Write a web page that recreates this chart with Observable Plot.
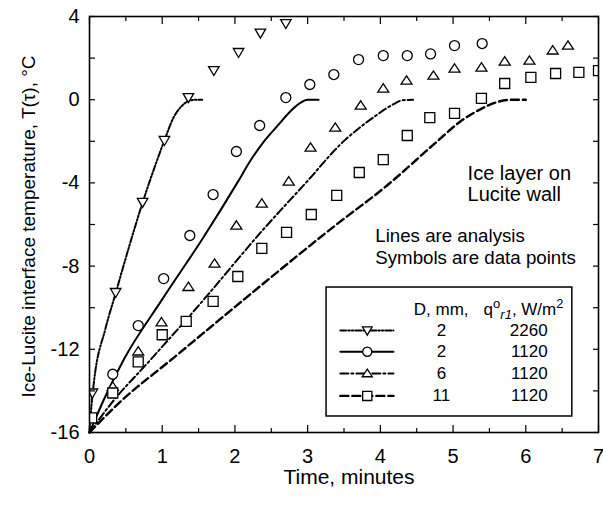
<!DOCTYPE html>
<html><head><meta charset="utf-8">
<script src="https://cdn.jsdelivr.net/npm/d3@7"></script>
<script src="https://cdn.jsdelivr.net/npm/@observablehq/plot@0.6"></script>
<style>
body{margin:0;background:#fff}
#chart{width:603px;height:506px}
</style>
</head><body><div id="chart"></div>
<script>
// ---- data (time in minutes, temperature in °C) ----
const seriesKeys = ["2260", "2mm", "6mm", "11mm"];
const legendD = ["2", "2", "6", "11"];
const legendQ = ["2260", "1120", "1120", "1120"];

// measured points
const ptsTime2260 = [0.04, 0.36, 0.73, 1.03, 1.36, 1.71, 2.05, 2.35, 2.70];
const ptsTemp2260 = [-14.1, -9.27, -4.94, -1.96, 0.1, 1.4, 2.27, 3.2, 3.66];
const ptsTime2mm = [0.32, 0.67, 1.02, 1.38, 1.70, 2.02, 2.34, 2.70, 3.03, 3.36, 3.70, 4.04, 4.37, 4.69, 5.02, 5.40];
const ptsTemp2mm = [-13.2, -10.86, -8.6, -6.53, -4.56, -2.49, -1.24, 0.1, 0.73, 1.21, 1.93, 2.12, 2.12, 2.2, 2.6, 2.7];
const ptsTime6mm = [0.32, 0.67, 0.99, 1.36, 1.72, 2.02, 2.37, 2.74, 3.04, 3.38, 3.73, 4.04, 4.36, 4.73, 5.02, 5.39, 5.71, 6.05, 6.37, 6.58];
const ptsTemp6mm = [-13.8, -12.1, -10.7, -9.0, -7.88, -6.05, -4.99, -3.93, -2.3, -1.34, -0.28, 0.54, 0.92, 1.16, 1.5, 1.55, 1.84, 1.88, 2.37, 2.6];
const ptsTime11mm = [0.03, 0.32, 0.67, 1.0, 1.33, 1.7, 2.04, 2.37, 2.71, 3.05, 3.40, 3.71, 4.04, 4.37, 4.68, 5.02, 5.39, 5.71, 6.07, 6.41, 6.73, 7.0];
const ptsTemp11mm = [-15.3, -14.1, -12.6, -11.3, -10.66, -9.7, -8.5, -7.15, -6.38, -5.52, -4.6, -3.5, -2.88, -1.72, -0.86, -0.66, 0.06, 0.78, 1.07, 1.26, 1.31, 1.4];

// analysis curves
const lnTime2260 = [0, 0.03, 0.06, 0.22, 0.36, 0.55, 0.73, 0.9, 1.03, 1.15, 1.27, 1.38, 1.48, 1.55];
const lnTemp2260 = [-16, -14.6, -13.6, -11.0, -9.3, -7.0, -4.95, -3.2, -1.96, -0.9, -0.3, -0.04, 0, 0];
const lnTime2mm = [0, 0.2, 0.47, 1.0, 1.57, 2.04, 2.21, 2.4, 2.6, 2.75, 2.88, 3.0, 3.15];
const lnTemp2mm = [-16, -14.4, -12.5, -9.6, -6.6, -3.95, -2.95, -2.0, -1.2, -0.6, -0.2, 0, 0];
const lnTime6mm = [0, 0.3, 0.84, 1.5, 2.4, 3.0, 3.45, 3.9, 4.19, 4.3, 4.45];
const lnTemp6mm = [-16, -14.6, -12.5, -9.9, -6.2, -3.9, -2.15, -0.86, -0.2, -0.03, 0];
const lnTime11mm = [0, 0.4, 1.16, 2.3, 3.36, 4.1, 4.75, 5.1, 5.38, 5.6, 5.8, 6.0];
const lnTemp11mm = [-16, -14.6, -12.4, -9.1, -6.1, -4.1, -2.1, -1.05, -0.45, -0.12, 0, 0];

const xMajorTicks = [0, 1, 2, 3, 4, 5, 6, 7];
const xMinorTicks = [0.5, 1.5, 2.5, 3.5, 4.5, 5.5, 6.5];
const yLabelTicks = [-16, -12, -8, -4, 0, 4];
const yAllTicks = [-16, -14, -12, -10, -8, -6, -4, -2, 0, 2, 4];

// ---- build tables ----
const zip = (xs, ys, key) => xs.map((x, i) => ({x, y: ys[i], key}));
const pts = {
  "2260": zip(ptsTime2260, ptsTemp2260, "2260"),
  "2mm": zip(ptsTime2mm, ptsTemp2mm, "2mm"),
  "6mm": zip(ptsTime6mm, ptsTemp6mm, "6mm"),
  "11mm": zip(ptsTime11mm, ptsTemp11mm, "11mm")
};
const lns = {
  "2260": zip(lnTime2260, lnTemp2260, "2260"),
  "2mm": zip(lnTime2mm, lnTemp2mm, "2mm"),
  "6mm": zip(lnTime6mm, lnTemp6mm, "6mm"),
  "11mm": zip(lnTime11mm, lnTemp11mm, "11mm")
};

// symbols
const triDown = {draw(c, s) { const r = Math.sqrt(s / Math.PI); c.moveTo(-1.05*r, -0.8*r); c.lineTo(1.05*r, -0.8*r); c.lineTo(0, 1.0*r); c.closePath(); }};
const triUp = {draw(c, s) { const r = Math.sqrt(s / Math.PI); c.moveTo(0, -0.95*r); c.lineTo(1.1*r, 0.72*r); c.lineTo(-1.1*r, 0.72*r); c.closePath(); }};
const sq = {draw(c, s) { const r = Math.sqrt(s / Math.PI); c.moveTo(-r, -r); c.lineTo(r, -r); c.lineTo(r, r); c.lineTo(-r, r); c.closePath(); }};
const circ = {draw(c, s) { const r = Math.sqrt(s / Math.PI); c.moveTo(r, 0); c.arc(0, 0, r, 0, 2*Math.PI); }};

const style = {
  "2260": {dash: "6,2,1.5,2,1.5,2", sym: triDown, w: 2},
  "2mm": {dash: null, sym: circ, w: 2},
  "6mm": {dash: "8,3,2,3", sym: triUp, w: 2},
  "11mm": {dash: "8,4", sym: sq, w: 2.4}
};

// legend layout (data coordinates)
const legX1 = 3.45, legX2 = 4.18, legXm = 3.82;
const legRowsY = [-11.1, -12.12, -13.16, -14.24];
const legendSamples = seriesKeys.map((k, i) => [{x: legX1, y: legRowsY[i], key: k}, {x: legX2, y: legRowsY[i], key: k}]);
const legendTable = seriesKeys.map((k, i) => ({key: k, y: legRowsY[i], d: legendD[i], q: legendQ[i]}));

const font = "Liberation Sans, Arial, Helvetica, sans-serif";
const marks = [];

// analysis lines
for (const k of seriesKeys) {
  marks.push(Plot.line(lns[k], {x: "x", y: "y", stroke: "black", strokeWidth: style[k].w,
    strokeDasharray: style[k].dash, curve: "monotone-x"}));
}
// data points
for (const k of seriesKeys) {
  marks.push(Plot.dot(pts[k], {x: "x", y: "y", symbol: () => style[k].sym, r: 5, fill: "white",
    stroke: "black", strokeWidth: 1.3, clip: true}));
}

// legend box
marks.push(Plot.rect([{x1: 3.26, x2: 6.64, y1: -9.03, y2: -15.23}], {x1: "x1", x2: "x2", y1: "y1", y2: "y2",
  fill: "white", stroke: "black", strokeWidth: 1.5}));
seriesKeys.forEach((k, i) => {
  marks.push(Plot.line(legendSamples[i], {x: "x", y: "y", stroke: "black", strokeWidth: style[k].w, strokeDasharray: style[k].dash}));
  marks.push(Plot.dot([legendTable[i]], {x: () => legXm, y: "y", symbol: () => style[k].sym, r: 4.6, fill: "white", stroke: "black", strokeWidth: 1.3}));
});
marks.push(Plot.text(legendTable, {x: () => 4.84, y: "y", text: "d", textAnchor: "middle", fontSize: 17, fontFamily: font}));
marks.push(Plot.text(legendTable, {x: () => 6.30, y: "y", text: "q", textAnchor: "end", fontSize: 17, fontFamily: font}));
marks.push(Plot.text(["D, mm,"], {x: () => 4.46, y: () => -10.1, text: d => d, textAnchor: "start", fontSize: 17, fontFamily: font}));
marks.push(Plot.text(["QHEADER"], {x: () => 5.42, y: () => -10.1, text: d => d, textAnchor: "start", fontSize: 17, fontFamily: font}));

// annotations
marks.push(Plot.text(["Ice layer on", "Lucite wall"], {x: () => 5.2, y: (d, i) => [-3.56, -4.56][i], text: d => d,
  textAnchor: "start", fontSize: 20, fontFamily: font}));
marks.push(Plot.text(["Lines are analysis", "Symbols are data points"], {x: () => 3.93, y: (d, i) => [-6.53, -7.6][i], text: d => d,
  textAnchor: "start", fontSize: 18.7, fontFamily: font}));

// frame & axes (inward ticks)
marks.push(Plot.frame({stroke: "black", strokeWidth: 1.6}));
marks.push(Plot.axisX(xMajorTicks, {anchor: "bottom", tickSize: -7, text: null, strokeWidth: 1.2}));
marks.push(Plot.axisX(xMinorTicks, {anchor: "bottom", tickSize: -4, text: null, strokeWidth: 1.2}));
marks.push(Plot.axisX(xMajorTicks, {anchor: "top", tickSize: -7, text: null, strokeWidth: 1.2}));
marks.push(Plot.axisX(xMinorTicks, {anchor: "top", tickSize: -4, text: null, strokeWidth: 1.2}));
marks.push(Plot.axisY(yAllTicks, {anchor: "left", tickSize: -6, text: null, strokeWidth: 1.2}));
marks.push(Plot.axisY(yAllTicks, {anchor: "right", tickSize: -6, text: null, strokeWidth: 1.2}));
marks.push(Plot.axisX(xMajorTicks, {anchor: "bottom", tickSize: 0, tickPadding: 16, tickFormat: d => String(d), fontSize: 20, fontFamily: font, label: null}));
marks.push(Plot.axisY(yLabelTicks, {anchor: "left", tickSize: 0, tickPadding: 10, tickFormat: d => String(d), fontSize: 20, fontFamily: font, label: null}));

// axis titles
marks.push(Plot.text(["Time, minutes"], {frameAnchor: "bottom", text: d => d, dy: 51, dx: 5, fontSize: 21, fontFamily: font}));
marks.push(Plot.text(["Ice-Lucite interface temperature, T(\u03c4), \u00b0C"], {frameAnchor: "left", textAnchor: "middle", text: d => d, dx: -61, dy: 2, rotate: -90, fontSize: 19, fontFamily: font}));

const chart = Plot.plot({
  width: 603, height: 506,
  marginTop: 16, marginRight: 5, marginBottom: 74, marginLeft: 89,
  x: {domain: [0, 7], label: null},
  y: {domain: [-16, 4], label: null},
  style: {fontFamily: font, color: "black", background: "white", overflow: "visible"},
  marks
});
document.getElementById("chart").appendChild(chart);

// rich text for the q header
d3.select(chart).selectAll("text").filter(function() { return this.textContent === "QHEADER"; })
  .each(function() {
    const t = d3.select(this);
    t.text(null);
    t.append("tspan").text("q");
    t.append("tspan").attr("dy", "-7").attr("font-size", 13).text("o");
    t.append("tspan").attr("dy", "11").attr("font-size", 13).attr("font-style", "italic").text("r1");
    t.append("tspan").attr("dy", "-4").text(", W/m");
    t.append("tspan").attr("dy", "-7").attr("font-size", 13).text("2");
  });
</script>
</body></html>
